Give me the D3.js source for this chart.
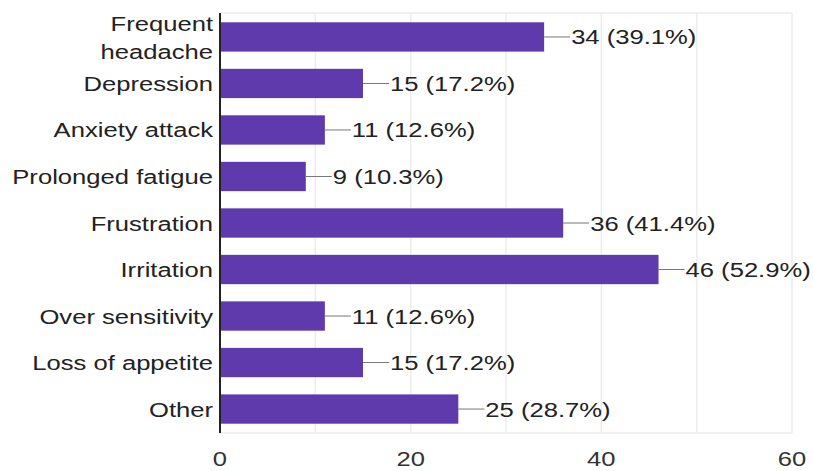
<!DOCTYPE html>
<html>
<head>
<meta charset="utf-8">
<script src="https://cdn.jsdelivr.net/npm/d3@7"></script>
<style>
  html, body { margin: 0; padding: 0; background: #fff; }
  text { font-family: Arial, "Liberation Sans", sans-serif; }
</style>
</head>
<body>
<svg id="chart" width="813" height="471"></svg>
<script>
const categories = ["Frequent headache", "Depression", "Anxiety attack", "Prolonged fatigue",
  "Frustration", "Irritation", "Over sensitivity", "Loss of appetite", "Other"];
const counts = [34, 15, 11, 9, 36, 46, 11, 15, 25];
const percents = [39.1, 17.2, 12.6, 10.3, 41.4, 52.9, 12.6, 17.2, 28.7];
const tickValues = [0, 20, 40, 60];
const gridValues = [10, 20, 30, 40, 50, 60];

const svg = d3.select("#chart");
const margin = { left: 220, right: 21, top: 13, bottom: 38 };
const W = 813, H = 471;
const FONT = 21;      // label font size
const STRETCH = 1.22; // horizontal widening of label glyphs

const x = d3.scaleLinear().domain([0, 60]).range([margin.left, W - margin.right]);
const y = d3.scaleBand().domain(categories).range([margin.top, H - margin.bottom]).paddingInner(0.37).paddingOuter(0.2);

// text placed at (tx, ty) and widened horizontally
function label(parent, tx, ty, str, anchor, fill, size = FONT) {
  return parent.append("text")
    .attr("transform", `translate(${tx},${ty}) scale(${STRETCH},1)`)
    .attr("text-anchor", anchor)
    .attr("font-size", size)
    .attr("fill", fill)
    .text(str);
}

// gridlines
svg.append("g").selectAll("line").data(gridValues).join("line")
  .attr("x1", d => x(d)).attr("x2", d => x(d))
  .attr("y1", margin.top).attr("y2", H - margin.bottom)
  .attr("stroke", "#ececec").attr("stroke-width", 1.5);
svg.append("line")
  .attr("x1", margin.left).attr("x2", x(60))
  .attr("y1", margin.top).attr("y2", margin.top)
  .attr("stroke", "#ececec").attr("stroke-width", 1.5);
svg.append("line")
  .attr("x1", margin.left).attr("x2", x(60))
  .attr("y1", H - margin.bottom).attr("y2", H - margin.bottom)
  .attr("stroke", "#ececec").attr("stroke-width", 1.5);

// bars
svg.append("g").selectAll("rect").data(categories).join("rect")
  .attr("x", x(0))
  .attr("y", d => y(d))
  .attr("width", (d, i) => x(counts[i]) - x(0))
  .attr("height", y.bandwidth())
  .attr("fill", "#5e3aad");

// leader lines and value labels
const labels = svg.append("g");
categories.forEach((c, i) => {
  const cy = y(c) + y.bandwidth() / 2;
  const xe = x(counts[i]);
  labels.append("line")
    .attr("x1", xe).attr("x2", xe + 26)
    .attr("y1", cy).attr("y2", cy)
    .attr("stroke", "#777").attr("stroke-width", 1);
  label(labels, xe + 27, cy + 7.5, `${counts[i]} (${percents[i]}%)`, "start", "#222");
});

// category labels
const cat = svg.append("g");
categories.forEach((c, i) => {
  const cy = y(c) + y.bandwidth() / 2;
  if (c === "Frequent headache") {
    label(cat, margin.left - 7, cy - 5.5, "Frequent", "end", "#222");
    label(cat, margin.left - 7, cy + 22.5, "headache", "end", "#222");
  } else {
    label(cat, margin.left - 7, cy + 7.5, c, "end", "#222");
  }
});

// axis line
svg.append("line")
  .attr("x1", margin.left).attr("x2", margin.left)
  .attr("y1", margin.top).attr("y2", H - margin.bottom)
  .attr("stroke", "#222").attr("stroke-width", 2);

// x tick labels
const ticks = svg.append("g");
tickValues.forEach(v => label(ticks, x(v), 466, v, "middle", "#333"));
</script>
</body>
</html>
